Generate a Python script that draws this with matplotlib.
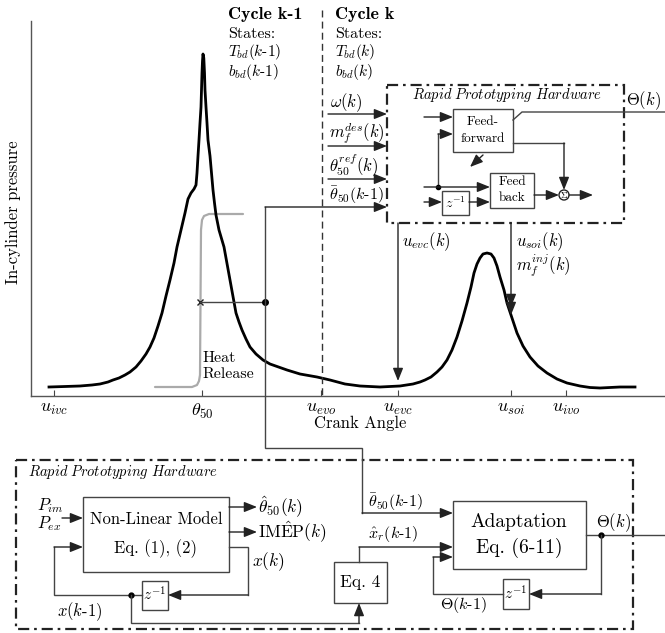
import matplotlib
matplotlib.use("Agg")
import matplotlib.pyplot as plt
from matplotlib.patches import Rectangle, Circle

plt.rcParams["font.family"] = "serif"
plt.rcParams["font.serif"] = ["cmr10", "DejaVu Serif"]
plt.rcParams["mathtext.fontset"] = "cm"
plt.rcParams["axes.unicode_minus"] = False

# in-cylinder pressure trace over one cycle (crank position, pressure height)
crank = [49, 65, 80, 92, 100, 108, 113, 119, 125, 130, 136, 141, 146, 150, 154, 158, 162,
         166, 170, 174, 177, 181, 185, 188, 191, 194, 196, 197, 198, 199, 200, 201, 201.5,
         202, 202.5, 203, 203.8, 204.5, 205, 206, 207, 208, 210, 211.5, 213, 214.5, 216,
         219, 224, 230, 236, 239, 242, 246, 250, 256, 263, 270, 287, 300, 317, 330, 345,
         360, 380, 400, 413, 420, 425, 431, 437, 442, 447, 452, 457, 462, 467, 471, 474,
         477, 480, 483, 487, 491, 494, 497, 500, 504, 507, 512, 517, 523, 530, 538, 547,
         557, 567, 580, 590, 600, 610, 620, 635]
pressure = [9, 9.5, 10, 11, 12, 14, 16, 18, 21, 24, 29, 35, 42, 49, 58, 70, 83,
            100, 116, 133, 149, 166, 183, 197, 203, 207, 211, 223, 240, 256, 273, 289, 306,
            323, 335, 342, 338, 323, 306, 289, 273, 256, 240, 223, 206, 193, 181,
            166, 149, 116, 83, 74, 66, 57, 49, 42, 36, 32, 26, 22, 19, 16, 12,
            10, 9, 10, 12, 14, 16, 19, 24, 29, 36, 46, 59, 75, 93, 109, 123,
            132, 138, 142, 143, 142, 138, 130, 119, 106, 93, 78, 63, 50, 39, 30, 23,
            17, 13, 10, 8.5, 8, 8.5, 9, 9]

# normalised heat release (scaled onto the same axes)
hr_crank = [155, 192, 197, 199, 200, 201, 202, 204, 209, 243]
hr_value = [9, 9, 11, 15, 21, 166, 176, 180, 182, 182]

tick_pos = [54, 202, 321, 398, 511, 566]
tick_labels = [r"$u_{ivc}$", r"$\theta_{\mathit{50}}$", r"$u_{evo}$", r"$u_{evc}$",
               r"$u_{soi}$", r"$u_{ivo}$"]

LC = "#444444"
MS = 12  # size of signal labels

fig = plt.figure(figsize=(6.65, 6.33), dpi=100)
W, H = 665, 633

pax = fig.add_axes([31 / W, 1 - 396 / H, (W - 31) / W, 375 / H])
pax.set_xlim(31, 665)
pax.set_ylim(0, 375)
pax.plot(hr_crank, hr_value, color="#aaaaaa", lw=1.6, solid_capstyle="round")
pax.plot(crank, pressure, color="black", lw=2.0, solid_joinstyle="round")
for s in ["top", "right"]:
    pax.spines[s].set_visible(False)
for s in ["left", "bottom"]:
    pax.spines[s].set_color("#555555")
    pax.spines[s].set_linewidth(1.0)
pax.set_yticks([])
pax.set_xticks(tick_pos)
pax.set_xticklabels(tick_labels, fontsize=13)
pax.tick_params(axis="x", direction="in", length=4, color=LC, pad=4)
pax.patch.set_alpha(0)

ov = fig.add_axes([0, 0, 1, 1])
ov.set_xlim(0, W)
ov.set_ylim(H, 0)
ov.axis("off")
ov.patch.set_alpha(0)


def line(pts, **kw):
    xs, ys = zip(*pts)
    ov.plot(xs, ys, color=kw.get("color", LC), lw=kw.get("lw", 1.0),
            solid_joinstyle="miter")


def arrow(pts):
    if len(pts) > 2:
        line(pts[:-1])
    ov.annotate("", xy=pts[-1], xytext=pts[-2],
                arrowprops=dict(arrowstyle="-|>,head_length=0.55,head_width=0.22",
                                color="#222222", lw=1.0, shrinkA=0, shrinkB=0,
                                mutation_scale=14))


def box(x0, y0, x1, y1, ls="-", lw=1.0):
    ov.add_patch(Rectangle((x0, y0), x1 - x0, y1 - y0, fill=False,
                           ec="#222222" if ls != "-" else LC, lw=lw, ls=ls))


def txt(x, y, s, size=10, ha="left", **kw):
    ov.text(x, y, s, fontsize=size, ha=ha, va="center", **kw)


dashdot = (0, (5, 2.2, 1.2, 2.2))
km1 = r"\mathit{(k}$-$\mathit{1)}$"

# axis titles
txt(13, 212, "In-cylinder pressure", 12, ha="center", rotation=90)
txt(360, 423, "Crank Angle", 12, ha="center")

# cycle divider and state labels
ov.plot([322, 322], [10, 396], color="#333333", lw=1.0, ls=(0, (5, 3)))
txt(228, 15, "Cycle k-1", 13, family="cmb10")
txt(228, 34, "States:", 11.5)
txt(228, 52, r"$T_{bd}" + km1, 11)
txt(228, 72, r"$b_{bd}" + km1, 11)
txt(335, 15, "Cycle k", 13, family="cmb10")
txt(335, 34, "States:", 11.5)
txt(335, 52, r"$T_{bd}\mathit{(k)}$", 11)
txt(335, 72, r"$b_{bd}\mathit{(k)}$", 11)

# heat release annotation and theta50 read-off
txt(203, 358, "Heat", 11.5)
txt(203, 374, "Release", 11.5)
ov.plot([200], [302], marker="x", color="#222222", ms=4, mew=1.0)
line([(200, 302), (265, 302)])
ov.plot([265], [302], marker="o", color="black", ms=4)
line([(265, 207), (265, 448), (362, 448), (362, 513)])

# upper prototyping hardware block
box(387, 85, 624, 223, ls=dashdot, lw=1.6)
txt(507, 95, r"$\mathit{Rapid\ Prototyping\ Hardware}$", 10.5, ha="center")
arrow([(328, 114), (387, 114)])
arrow([(328, 146), (387, 146)])
arrow([(328, 179), (387, 179)])
arrow([(265, 207), (387, 207)])
txt(330, 103, r"$\omega(k)$", MS)
txt(329, 133, r"$m_f^{des}(k)$", MS)
txt(329, 166, r"$\theta_{\mathit{50}}^{ref}(k)$", MS)
txt(329, 195, r"$\bar{\theta}_{\mathit{50}}" + km1, 11.5)

box(453, 109, 513, 152)
txt(483, 122, "Feed-", 9.5, ha="center")
txt(483, 139, "forward", 9.5, ha="center")
box(490, 173, 534, 208)
txt(512, 182, "Feed", 9.5, ha="center")
txt(512, 198, "back", 9.5, ha="center")
box(442, 191, 469, 215)
txt(455, 203, r"$z^{-1}$", 10, ha="center")
arrow([(424, 117), (453, 117)])
arrow([(438, 187), (438, 134), (453, 134)])
arrow([(424, 187), (490, 187)])
ov.plot([438], [187], marker="o", color="black", ms=3)
arrow([(424, 202), (442, 202)])
arrow([(469, 202), (490, 202)])
arrow([(513, 143), (564, 143), (564, 190)])
ov.add_patch(Circle((564, 195), 5, fill=False, ec="#222222", lw=1.0))
txt(564, 195.5, r"$\Sigma$", 6.5, ha="center")
arrow([(534, 195), (559, 195)])
arrow([(569, 195), (593, 195)])
arrow([(483, 155), (470, 167)])
line([(513, 120), (522, 112), (665, 112)])
txt(643, 101, r"$\Theta(k)$", MS, ha="center")

# actuator commands down to the trace
arrow([(398, 223), (398, 381)])
arrow([(511, 223), (511, 307)])
arrow([(511, 307), (511, 315)])
txt(402, 242, r"$u_{evc}(k)$", MS)
txt(516, 242, r"$u_{soi}(k)$", MS)
txt(516, 266, r"$m_f^{inj}(k)$", MS)

# lower prototyping hardware block
box(16, 460, 633, 629, ls=dashdot, lw=1.6)
txt(28, 472, r"$\mathit{Rapid\ Prototyping\ Hardware}$", 10.5)

box(83, 497, 229, 572)
txt(156, 519, "Non-Linear Model", 12, ha="center")
txt(156, 549, "Eq. (1), (2)", 12, ha="center")
arrow([(62, 518), (83, 518)])
txt(37, 506, r"$P_{im}$", MS)
txt(37, 524, r"$P_{ex}$", MS)
arrow([(229, 507), (257, 507)])
arrow([(229, 532), (257, 532)])
txt(258, 507, r"$\hat{\theta}_{50}(k)$", 12.5)
txt(258, 532, r"$\mathrm{IM\hat{E}P}(k)$", 12.5)
arrow([(229, 547), (248, 547), (248, 595), (168, 595)])
txt(252, 562, r"$x(k)$", 12.5)
box(142, 581, 168, 610)
txt(155, 595, r"$z^{-1}$", 11, ha="center")
arrow([(142, 595), (54, 595), (54, 547), (83, 547)])
ov.plot([131], [595], marker="o", color="black", ms=3.5)
arrow([(131, 595), (131, 623), (359, 623), (359, 603)])
txt(57, 612, r"$x" + km1, 12)

box(334, 562, 387, 603)
txt(360, 582, "Eq. 4", 12.5, ha="center")
arrow([(359, 562), (359, 547), (453, 547)])
txt(368, 534, r"$\hat{x}_r" + km1, 11.5)
arrow([(362, 513), (453, 513)])
txt(368, 502, r"$\bar{\theta}_{\mathit{50}}" + km1, 11.5)

box(453, 501, 586, 569)
txt(519, 522, "Adaptation", 14, ha="center")
txt(519, 548, "Eq. (6-11)", 14, ha="center")
line([(586, 535), (665, 535)])
ov.plot([601], [535], marker="o", color="black", ms=3.5)
txt(613, 523, r"$\Theta(k)$", MS, ha="center")
arrow([(601, 535), (601, 594), (529, 594)])
box(503, 579, 529, 609)
txt(516, 594, r"$z^{-1}$", 11, ha="center")
arrow([(503, 594), (433, 594), (433, 557), (453, 557)])
txt(440, 605, r"$\Theta" + km1, 11.5)

fig.savefig("out.png", dpi=100)
